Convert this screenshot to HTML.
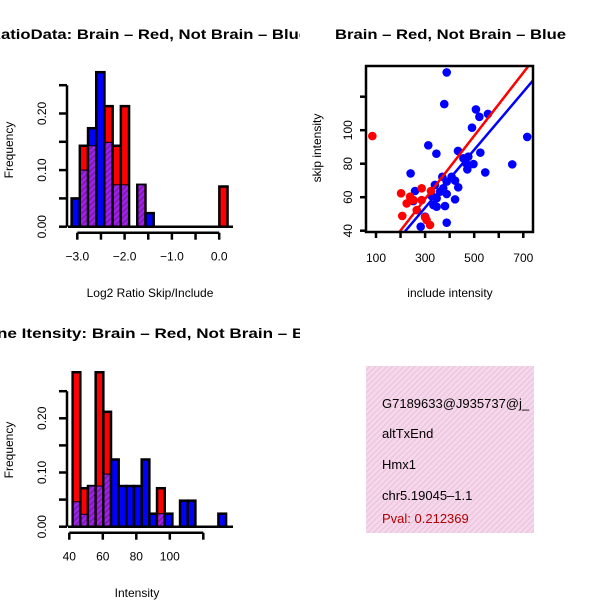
<!DOCTYPE html>
<html><head><meta charset="utf-8"><style>
html,body{margin:0;padding:0;background:#fff}
svg{display:block;font-family:"Liberation Sans",sans-serif}
</style></head><body>
<svg id="c" width="600" height="600" viewBox="0 0 600 600">
<defs>
<pattern id="ph" width="4" height="4" patternUnits="userSpaceOnUse" patternTransform="rotate(45)">
<rect width="4" height="4" fill="#a020f0"/><rect width="1.5" height="4" fill="#7a1aa8"/></pattern>
<pattern id="pk" width="4" height="4" patternUnits="userSpaceOnUse" patternTransform="rotate(45)">
<rect width="4" height="4" fill="#f9d6ef"/><rect width="1.3" height="4" fill="#e6c8d6"/></pattern>
<clipPath id="cl"><rect x="0" y="0" width="300" height="600"/></clipPath>
<clipPath id="cs"><rect x="366" y="66" width="167" height="166"/></clipPath>
</defs>
<g id="h1"></g>
<g id="sc"></g>
<g id="h2"></g>
<g>
<rect x="366" y="366" width="168" height="167" fill="url(#pk)"/>
<text x="382" y="408" font-size="13">G7189633@J935737@j_</text>
<text x="382" y="438" font-size="13">altTxEnd</text>
<text x="382" y="469" font-size="13">Hmx1</text>
<text x="382" y="500" font-size="13">chr5.19045–1.1</text>
<text x="382" y="523" font-size="13" fill="#b00000">Pval: 0.212369</text>
</g>
</svg>
<script>
// ---- data ----
const h1Start=-3.12, h1Width=0.1735;
const h1Red=[0,0.143,0.143,0,0.213,0.143,0.213,0,0.074,0,0,0,0,0,0,0,0,0,0.071];
const h1Blue=[0.05,0.1,0.174,0.273,0.149,0.074,0.074,0,0.074,0.024,0,0,0,0,0,0,0,0,0];
const h1XTicks=[-3,-2.5,-2,-1.5,-1,-0.5,0];
const h1XLabels=["−3.0","","−2.0","","−1.0","","0.0"];
const hYTicks=[0,0.05,0.1,0.15,0.2,0.25];
const hYLabels=["0.00","","0.10","","0.20",""];
const h2Start=42, h2Width=4.58;
const h2Red=[0.285,0.071,0.075,0.285,0.212,0,0,0,0,0,0,0.071,0,0,0,0,0,0,0,0];
const h2Blue=[0.046,0.023,0.075,0.075,0.097,0.124,0.075,0.075,0.075,0.124,0.024,0.024,0.024,0,0.048,0.048,0,0,0,0.024];
const h2XTicks=[40,60,80,100,120];
const h2XLabels=["40","60","80","100",""];
const blueX=[388,378,507,521,556,491,716,313,346,434,525,456,476,467,497,472,655,545,241,370,408,388,422,340,435,259,374,361,388,327,347,252,422,334,381,347,300,388,282];
const blueY=[134.5,115.6,112.4,108,109.7,101.5,96,91,86,87.6,86.6,83.2,84.2,80.2,79.8,76.6,79.6,74.8,74.2,72.2,72.2,69.3,69.9,67.3,65.9,63.7,65.3,63.3,61.9,60.7,59.3,57.7,58.7,55.3,54.7,54.3,48.4,44.8,42.4];
const redX=[85,202,286,324,239,225,252,286,266,207,306,320,300];
const redY=[96.5,62.3,65.3,63.7,60.3,56.3,58.3,58.3,52.3,48.8,46.4,43.4,48];
const redFit=[2.4,0.1885], blueFit=[1.9,0.1728];
const scXTicks=[100,200,300,400,500,600,700];
const scXLabels=["100","","300","","500","","700"];
const scYTicks=[40,60,80,100,120];
const scYLabels=["40","60","80","100",""];
// ---- helpers ----
const NS="http://www.w3.org/2000/svg";
function mk(p,t,a){const e=document.createElementNS(NS,t);for(const k in a)e.setAttribute(k,a[k]);p.appendChild(e);return e;}
function hist(g,o){
  const X=v=>o.x0+(v-o.xv0)*o.xs, Y=v=>o.y0-v*o.ys;
  const tg=mk(g,'g',{'clip-path':o.clip||''});
  let t=mk(tg,'text',{x:o.tx,y:o.ty,'font-size':14,'font-weight':'bold',textLength:o.tl,lengthAdjust:'spacingAndGlyphs'});t.textContent=o.title;
  
  
  for(let i=0;i<o.red.length;i++){
    const l=X(o.start+i*o.w), r=X(o.start+(i+1)*o.w);
    const rv=o.red[i], bv=o.blue[i], mx=Math.max(rv,bv), mn=Math.min(rv,bv);
    if(mx<=0)continue;
    const b=mk(g,'rect',{x:l,y:Y(mx),width:r-l,height:Y(0)-Y(mx),fill:rv>=bv?'#ff0000':'#0000ff',stroke:'#000','stroke-width':2.5});
    
    
    if(mn>0){const p=mk(g,'rect',{x:l+1.2,y:Y(mn),width:r-l-2.4,height:Y(0)-Y(mn)-1.2,fill:'url(#ph)'});
      
      
      mk(g,'line',{x1:l,x2:r,y1:Y(mn),y2:Y(mn),stroke:'#000','stroke-width':1});}
  }
  mk(g,'line',{x1:o.bl,x2:o.br,y1:Y(0),y2:Y(0),stroke:'#000','stroke-width':2.5});
  const ax=mk(g,'g',{});
  const ay=o.y0+6;
  mk(ax,'line',{x1:X(o.xt[0]),x2:X(o.xt[o.xt.length-1]),y1:ay,y2:ay,stroke:'#000','stroke-width':2.5});
  o.xt.forEach((v,i)=>{mk(ax,'line',{x1:X(v),x2:X(v),y1:ay,y2:ay+7,stroke:'#000','stroke-width':2.5});
    if(o.xl[i]){const s=mk(ax,'text',{x:X(v),y:ay+28,'font-size':12,'text-anchor':'middle'});s.textContent=o.xl[i];}});
  const yx=o.yax;
  const yg=mk(g,'g',{});
  mk(yg,'line',{x1:yx,x2:yx,y1:Y(0),y2:Y(0.25),stroke:'#000','stroke-width':2.5});
  hYTicks.forEach((v,i)=>{mk(yg,'line',{x1:yx-8,x2:yx,y1:Y(v),y2:Y(v),stroke:'#000','stroke-width':2.5});
    if(hYLabels[i]){const s=mk(yg,'text',{x:0,y:0,'font-size':12,'text-anchor':'middle',transform:`translate(46,${Y(v)}) rotate(-90)`});s.textContent=hYLabels[i];}});
  let f=mk(g,'text',{'font-size':12,'text-anchor':'middle',transform:`translate(13,${o.fy}) rotate(-90)`});f.textContent='Frequency';
  
  let xt=mk(g,'text',{x:o.xtx,y:o.xty,'font-size':12,'text-anchor':'middle'});xt.textContent=o.xtitle;
  
}
hist(document.getElementById('h1'),{x0:77.3,xv0:-3,xs:47.3,y0:226.7,ys:566,red:h1Red,blue:h1Blue,start:h1Start,w:h1Width,
  xt:h1XTicks,xl:h1XLabels,bl:68,br:233,yax:67,fy:150,xtitle:'Log2 Ratio Skip/Include',xtx:150,xty:297,
  title:'RatioData: Brain – Red, Not Brain – Blue',tx:-11,ty:39,tl:319,clip:'url(#cl)'});
hist(document.getElementById('h2'),{x0:69.3,xv0:40,xs:1.675,y0:526.7,ys:542,red:h2Red,blue:h2Blue,start:h2Start,w:h2Width,
  xt:h2XTicks,xl:h2XLabels,bl:68,br:233,yax:67,fy:450,xtitle:'Intensity',xtx:137,xty:597,
  title:'ne Itensity: Brain – Red, Not Brain – Blue',tx:-3,ty:338,tl:332,clip:'url(#cl)'});
// scatter
(function(){
  const g=document.getElementById('sc');
  const X=v=>376+(v-100)*0.2455, Y=v=>230.7-(v-40)*1.675;
  let t=mk(g,'text',{x:335,y:39,'font-size':14,'font-weight':'bold',textLength:231,lengthAdjust:'spacingAndGlyphs'});t.textContent='Brain – Red, Not Brain – Blue';
  
  const pg=mk(g,'g',{'clip-path':'url(#cs)'});
  blueX.forEach((v,i)=>{const c=mk(pg,'circle',{cx:X(v),cy:Y(blueY[i]),r:4.3,fill:'#0000ff'});
    });
  redX.forEach((v,i)=>{const c=mk(pg,'circle',{cx:X(v),cy:Y(redY[i]),r:4.3,fill:'#ff0000'});
    });
  [[redFit,'#ff0000','fit-line-brain'],[blueFit,'#0000ff','fit-line-not-brain']].forEach(([f,col,n])=>{
    const l=mk(pg,'line',{x1:X(0),y1:Y(f[0]),x2:X(900),y2:Y(f[0]+f[1]*900),stroke:col,'stroke-width':2.5});
    });
  const b=mk(g,'rect',{x:366,y:66,width:167,height:166,fill:'none',stroke:'#000','stroke-width':2.5});
  
  scXTicks.forEach((v,i)=>{mk(g,'line',{x1:X(v),x2:X(v),y1:232,y2:238,stroke:'#000','stroke-width':2.5});
    if(scXLabels[i]){const s=mk(g,'text',{x:X(v),y:262,'font-size':12,'text-anchor':'middle'});s.textContent=scXLabels[i];}});
  scYTicks.forEach((v,i)=>{mk(g,'line',{x1:360,x2:366,y1:Y(v),y2:Y(v),stroke:'#000','stroke-width':2.5});
    if(scYLabels[i]){const s=mk(g,'text',{'font-size':12,'text-anchor':'middle',transform:`translate(352,${Y(v)}) rotate(-90)`});s.textContent=scYLabels[i];}});
  let xt=mk(g,'text',{x:450,y:297,'font-size':12,'text-anchor':'middle'});xt.textContent='include intensity';
  
  let yt=mk(g,'text',{'font-size':12,'text-anchor':'middle',transform:'translate(321,148) rotate(-90)'});yt.textContent='skip intensity';
  
})();
</script>
</body></html>
